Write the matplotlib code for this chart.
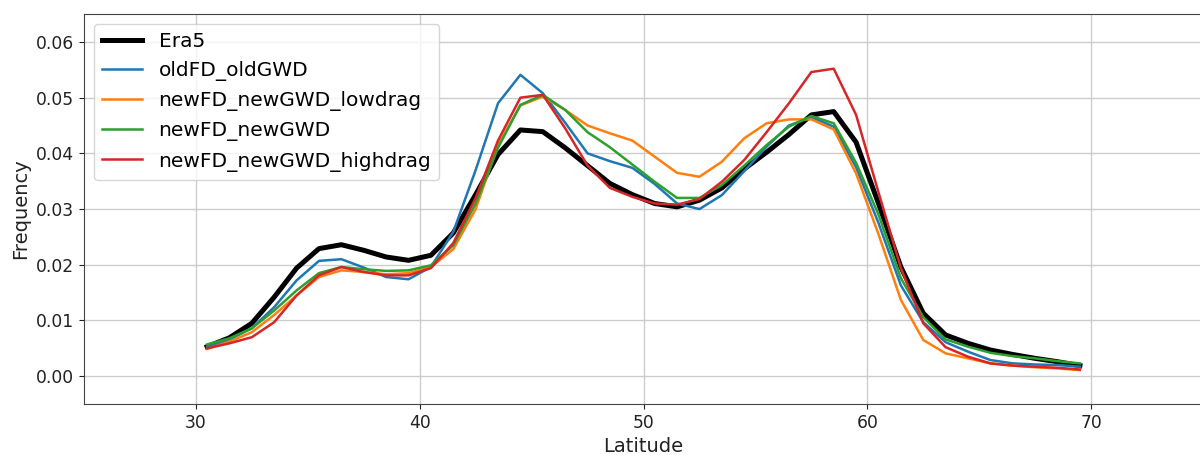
import numpy as np
import matplotlib
matplotlib.use("Agg")
import matplotlib.pyplot as plt

# Bin centres (degrees latitude)
latitude = np.arange(30.5, 70.0, 1.0)

era5 = [0.0053, 0.0069, 0.0095, 0.0142, 0.0194, 0.0229, 0.0236, 0.0226, 0.0214, 0.0208,
        0.0217, 0.0257, 0.0326, 0.0398, 0.0442, 0.0439, 0.0410, 0.0378, 0.0346, 0.0326,
        0.0310, 0.0304, 0.0316, 0.0338, 0.0372, 0.0402, 0.0434, 0.0469, 0.0475, 0.0420,
        0.0310, 0.0196, 0.0113, 0.0074, 0.0059, 0.0047, 0.0039, 0.0032, 0.0026, 0.0019]

old_fd_old_gwd = [0.0053, 0.0066, 0.0086, 0.0124, 0.0172, 0.0207, 0.0210, 0.0195, 0.0178, 0.0174,
                  0.0196, 0.0259, 0.0370, 0.0490, 0.0541, 0.0508, 0.0455, 0.0400, 0.0386, 0.0374,
                  0.0345, 0.0310, 0.0300, 0.0325, 0.0368, 0.0412, 0.0450, 0.0465, 0.0448, 0.0375,
                  0.0275, 0.0163, 0.0097, 0.0061, 0.0044, 0.0029, 0.0023, 0.0021, 0.0020, 0.0017]

new_fd_new_gwd_lowdrag = [0.0049, 0.0062, 0.0079, 0.0110, 0.0145, 0.0178, 0.0190, 0.0187, 0.0183, 0.0185,
                          0.0196, 0.0228, 0.0300, 0.0415, 0.0486, 0.0502, 0.0478, 0.0450, 0.0436, 0.0423,
                          0.0394, 0.0365, 0.0358, 0.0385, 0.0427, 0.0454, 0.0461, 0.0461, 0.0443, 0.0364,
                          0.0255, 0.0137, 0.0065, 0.0041, 0.0032, 0.0023, 0.0019, 0.0016, 0.0014, 0.0011]

new_fd_new_gwd = [0.0057, 0.0068, 0.0086, 0.0118, 0.0154, 0.0185, 0.0196, 0.0192, 0.0189, 0.0190,
                  0.0199, 0.0235, 0.0310, 0.0410, 0.0487, 0.0505, 0.0478, 0.0438, 0.0411, 0.0380,
                  0.0349, 0.0320, 0.0320, 0.0343, 0.0378, 0.0415, 0.0448, 0.0467, 0.0454, 0.0383,
                  0.0290, 0.0176, 0.0106, 0.0066, 0.0053, 0.0042, 0.0036, 0.0032, 0.0027, 0.0023]

new_fd_new_gwd_highdrag = [0.0050, 0.0059, 0.0070, 0.0097, 0.0145, 0.0181, 0.0196, 0.0187, 0.0181, 0.0181,
                           0.0194, 0.0239, 0.0320, 0.0423, 0.0500, 0.0505, 0.0445, 0.0378, 0.0338, 0.0322,
                           0.0310, 0.0308, 0.0318, 0.0349, 0.0388, 0.0438, 0.0490, 0.0546, 0.0552, 0.0469,
                           0.0330, 0.0194, 0.0095, 0.0052, 0.0035, 0.0023, 0.0019, 0.0017, 0.0015, 0.0012]

series = [
    ("Era5", era5, "black", 3.6),
    ("oldFD_oldGWD", old_fd_old_gwd, "#1f77b4", 1.8),
    ("newFD_newGWD_lowdrag", new_fd_new_gwd_lowdrag, "#ff7f0e", 1.8),
    ("newFD_newGWD", new_fd_new_gwd, "#2ca02c", 1.8),
    ("newFD_newGWD_highdrag", new_fd_new_gwd_highdrag, "#d62728", 1.8),
]

fig = plt.figure(figsize=(12, 4.55), dpi=100)
ax = fig.add_axes([0.07, 0.112, 0.9325, 0.857])

for label, values, color, lw in series:
    ax.plot(latitude, values, color=color, lw=lw, label=label)

ax.set_xlim(25, 75)
ax.set_ylim(-0.005, 0.065)
ax.set_xticks([30, 40, 50, 60, 70])
ax.set_yticks([0.00, 0.01, 0.02, 0.03, 0.04, 0.05, 0.06])
ax.set_yticklabels(["0.00", "0.01", "0.02", "0.03", "0.04", "0.05", "0.06"])
ax.grid(True, color="#cccccc", lw=1.0)
ax.set_axisbelow(True)
ax.tick_params(labelsize=12.3, colors="#222222")
for s in ax.spines.values():
    s.set_color("#444444")
ax.set_xlabel("Latitude", fontsize=14, color="#222222")
ax.set_ylabel("Frequency", fontsize=14, color="#222222")
ax.legend(loc="upper left", fontsize=14.5, framealpha=0.8, handlelength=2.0)

fig.savefig("out.png", dpi=100)
